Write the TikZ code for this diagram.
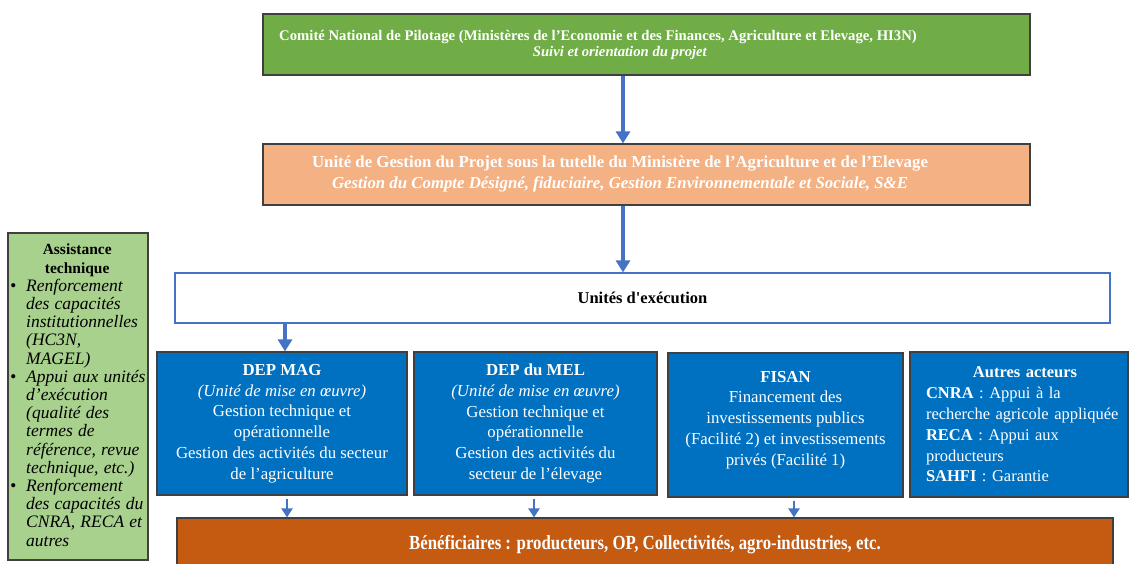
\documentclass[tikz,border=0pt]{standalone}
\usepackage{fontspec}
\setmainfont{Liberation Serif}
\usetikzlibrary{arrows.meta}

\definecolor{pilotgreen}{HTML}{70AD47}
\definecolor{ugporange}{HTML}{F4B183}
\definecolor{depblue}{HTML}{0070C0}
\definecolor{linkblue}{HTML}{4472C4}
\definecolor{benefbrown}{HTML}{C55A11}
\definecolor{atgreen}{HTML}{A9D18E}
\definecolor{boxline}{HTML}{404040}

\tikzset{
  box/.style={draw=boxline, line width=1.2pt, inner sep=0pt},
  wtxt/.style={text=white, align=center},
  flow/.style={draw=linkblue, line width=3.5pt, -{Triangle[width=14pt,length=12pt]}},
  smallflow/.style={draw=linkblue, line width=2.5pt, -{Triangle[width=11pt,length=9pt]}},
}

\begin{document}
\begin{tikzpicture}[x=1pt, y=-1pt]
        \useasboundingbox (0,0) rectangle (1129,563);

        % pilotage et gestion
        \node[box, fill=pilotgreen, minimum width=767, minimum height=61] (cnp) at (646.5,44.5) {};
        \node[wtxt, font=\bfseries\fontsize{14.7}{16.5}\selectfont] (cnptxt) at (598,45)
            {Comité National de Pilotage (Ministères de l’Economie et des Finances, Agriculture et Elevage, HI3N)\\
             \hspace*{44pt}\textit{Suivi et orientation du projet}};
        \node[box, fill=ugporange, minimum width=767, minimum height=61] (ugp) at (646.5,174.5) {};
        \node[wtxt, font=\bfseries\fontsize{16.8}{21}\selectfont] (ugptxt) at (620,174)
            {Unité de Gestion du Projet sous la tutelle du Ministère de l’Agriculture et de l’Elevage\\
             \textit{Gestion du Compte Désigné, fiduciaire, Gestion Environnementale et Sociale, S\&E}};
        \node[draw=linkblue, line width=1.2pt, fill=white, minimum width=935, minimum height=50,
              font=\bfseries\fontsize{16.5}{20}\selectfont] (unites) at (642.5,298) {Unités d\textquotesingle exécution};

        % unites d'execution
        \node[box, fill=depblue, wtxt, minimum width=250, minimum height=143,
              font=\fontsize{16.8}{20.8}\selectfont] (depmag) at (282,423.5)
            {\textbf{DEP MAG}\\ \textit{(Unité de mise en œuvre)}\\ Gestion technique et\\ opérationnelle\\
             Gestion des activités du secteur\\ de l’agriculture};
        \node[box, fill=depblue, wtxt, minimum width=243, minimum height=143,
              font=\fontsize{16.8}{20.8}\selectfont] (depmel) at (535.5,423.5)
            {\textbf{DEP du MEL}\\ \textit{(Unité de mise en œuvre)}\\ Gestion technique et\\ opérationnelle\\
             Gestion des activités du\\ secteur de l’élevage};
        \node[box, fill=depblue, wtxt, minimum width=235, minimum height=144,
              font=\fontsize{16.8}{20.8}\selectfont] (fisan) at (785.5,425)
            {\textbf{FISAN}\\ Financement des\\ investissements publics\\ (Facilité 2) et investissements\\
             privés (Facilité 1)\\[-7pt]\mbox{}};
        \node[box, fill=depblue, minimum width=218, minimum height=145] (autres) at (1019,424.5) {};
        \node[text=white, text width=198, align=left, inner sep=0pt,
              font=\fontsize{16.5}{20.8}\selectfont] (autrestxt) at (1025,424.5)
            {\centerline{\textbf{Autres acteurs}}
             \textbf{CNRA} : Appui à la\\ recherche agricole appliquée\\ \textbf{RECA} : Appui aux\\
             producteurs\\ \textbf{SAHFI} : Garantie};

        \node[box, fill=benefbrown, minimum width=936, minimum height=58] (benef) at (645,547) {};
        \node[text=white, font=\bfseries\fontsize{20}{22}\selectfont] (beneftxt) at (645,545)
            {\scalebox{0.84}[1]{Bénéficiaires : producteurs, OP, Collectivités, agro-industries, etc.}};

        % assistance technique
        \node[box, fill=atgreen, minimum width=140, minimum height=327] (at) at (78,396.5) {};
        \node[anchor=north west, text width=132, inner sep=0pt, font=\fontsize{15.5}{18.2}\selectfont] (attxt) at (11,244)
            {{\centering\textbf{Assistance\\ technique}\par}
             \begin{list}{\textbullet}{\leftmargin=15pt \rightmargin=-30pt \labelwidth=10pt \labelsep=10pt
                 \itemsep=0pt \parsep=0pt \topsep=0pt \partopsep=0pt}
             \fontsize{17.5}{18.2}\selectfont\itshape\raggedright
             \item Renforcement\\ des capacités\\ institutionnelles\\ (HC3N,\\ MAGEL)
             \item Appui aux unités\\ d’exécution\\ (qualité des\\ termes de\\ référence, revue\\ technique, etc.)
             \item Renforcement\\ des capacités du\\ CNRA, RECA et\\ autres
             \end{list}};

        % fleches
        \draw[flow] ([xshift=-23.5pt]cnp.south) -- ([xshift=-23.5pt]ugp.north);
        \draw[flow] ([xshift=-23.5pt]ugp.south) -- ([xshift=-23.5pt]ugp.south |- unites.north);
        \draw[flow] ([xshift=3pt]depmag.north |- unites.south) -- ([xshift=3pt]depmag.north);
        \draw[smallflow] ([xshift=5pt,yshift=-3pt]depmag.south) -- ([xshift=5pt]depmag.south |- benef.north);
        \draw[smallflow] ([xshift=-1.5pt,yshift=-3pt]depmel.south) -- ([xshift=-1.5pt]depmel.south |- benef.north);
        \draw[smallflow] ([xshift=8.5pt,yshift=-3pt]fisan.south) -- ([xshift=8.5pt]fisan.south |- benef.north);
    \end{tikzpicture}
\end{document}
